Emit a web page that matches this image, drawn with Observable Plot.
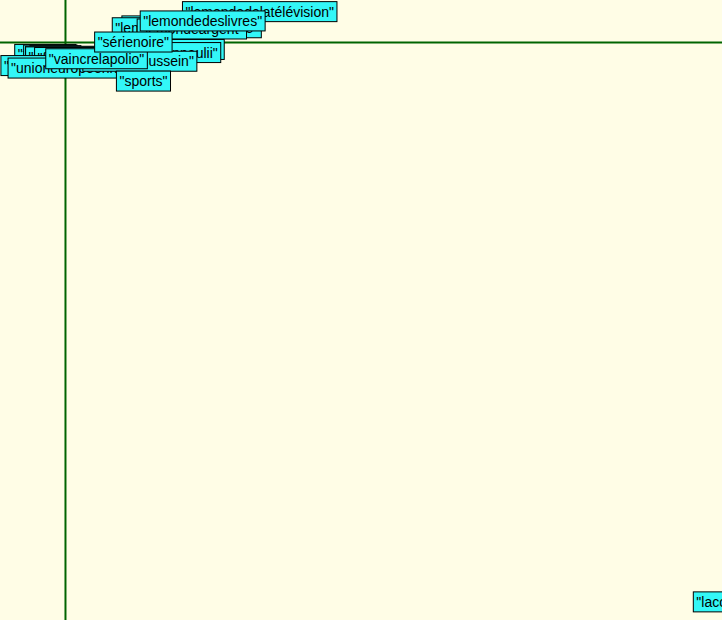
<!DOCTYPE html>
<html><head><meta charset="utf-8">
<script src="https://cdn.jsdelivr.net/npm/d3@7"></script>
<script src="https://cdn.jsdelivr.net/npm/@observablehq/plot@0.6"></script>
<style>
html,body{margin:0;padding:0;background:#fffde6;overflow:hidden}
</style>
</head><body><div id="chart"></div>
<script>
// Label terms (drawn in this order; later ones on top)
const terms = ["football","tennis","rugby","cyclisme","athlétisme","formule1",
  "lemondeinteractif","lemondediplomatique","lemondeargent",
  "benoîtxvi","jeanpaulii","unionafricaine","unioneuropéenne",
  "saddamhussein","sports","vaincrelapolio","sérienoire",
  "lemondedelatélévision","lemondedeslivres","lacoupedumonde"];
const dim1 = [-0.028,-0.021,-0.014,-0.007,0.000,0.006,
  0.163,0.168,0.175,
  0.170,0.163,-0.018,0.007,
  0.103,0.108,0.043,0.094,
  0.269,0.190,0.955];
const dim2 = [-0.020,-0.021,-0.022,-0.023,-0.024,-0.025,
  0.026,0.023,0.021,
  -0.012,-0.017,-0.038,-0.042,
  -0.031,-0.063,-0.027,0.000,
  0.049,0.034,-0.903];

const data = terms.map((t,i)=>({term:t, x:dim1[i], y:dim2[i]}));

const plot = Plot.plot({
  width: 722, height: 620,
  margin: 0,
  style: {background: "#fffde6", fontFamily: "Liberation Sans, Arial, sans-serif"},
  x: {domain: [-0.09, 0.91], axis: null},
  y: {domain: [-0.9322, 0.0678], axis: null},
  marks: [
    Plot.ruleX([0], {stroke: "#006400", strokeWidth: 2}),
    Plot.ruleY([0], {stroke: "#006400", strokeWidth: 2}),
    Plot.text(data, {x: "x", y: "y", text: d => `"${d.term}"`, fontSize: 14, fill: "#000"})
  ]
});
document.getElementById("chart").appendChild(plot);

// add cyan boxes behind each label
plot.querySelectorAll('g[aria-label="text"] text').forEach(t => {
  const b = t.getBBox();
  const r = document.createElementNS("http://www.w3.org/2000/svg","rect");
  r.setAttribute("x", b.x - 3);
  r.setAttribute("y", b.y - 2);
  r.setAttribute("width", b.width + 6);
  r.setAttribute("height", b.height + 4);
  r.setAttribute("fill", "#33f7f7");
  r.setAttribute("stroke", "#000");
  r.setAttribute("stroke-width", 1);
  const tr = t.getAttribute("transform");
  if (tr) r.setAttribute("transform", tr);
  t.parentNode.insertBefore(r, t);
});
</script>
</body></html>
